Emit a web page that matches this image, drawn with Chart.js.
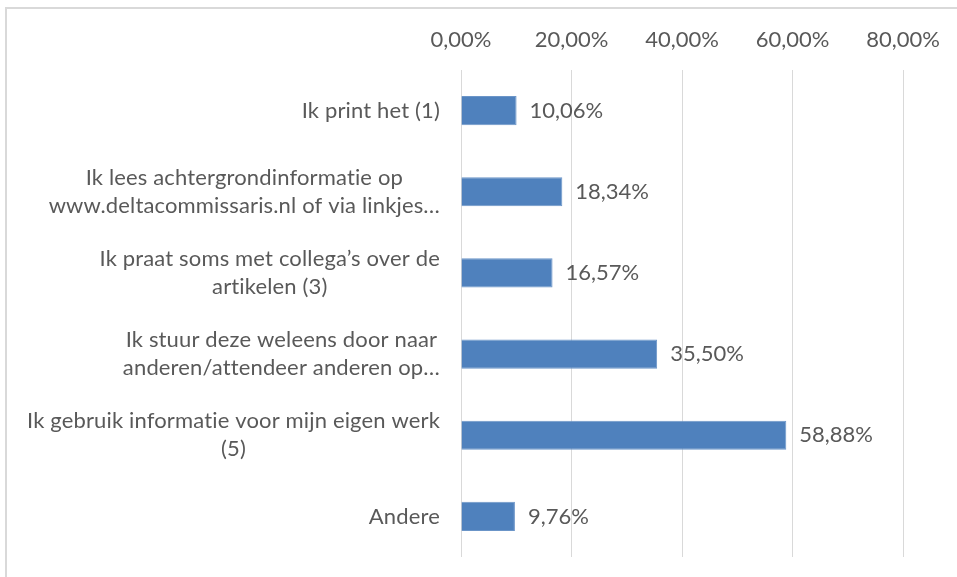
<!DOCTYPE html>
<html>
<head>
<meta charset="utf-8">
<script src="https://cdn.jsdelivr.net/npm/chart.js@4/dist/chart.umd.min.js"></script>
<style>
  body { margin: 0; background: #fff; }
  #wrap { position: relative; width: 957px; height: 577px; overflow: hidden; }
  #frame { position: absolute; left: 5px; top: 7px; width: 1000px; height: 600px; border: 2px solid #d9d9d9; }
  #chart { position: absolute; left: 0; top: 0; }
</style>
</head>
<body>
<div id="wrap">
  <div id="frame"></div>
  <canvas id="chart" width="957" height="577"></canvas>
</div>
<script>
const categories = [
  ['Ik print het (1)'],
  ['Ik lees achtergrondinformatie op', 'www.deltacommissaris.nl of via linkjes…'],
  ['Ik praat soms met collega’s over de', 'artikelen (3)'],
  ['Ik stuur deze weleens door naar', 'anderen/attendeer anderen op…'],
  ['Ik gebruik informatie voor mijn eigen werk', '(5)'],
  ['Andere']
];
const values = [10.06, 18.34, 16.57, 35.50, 58.88, 9.76];
const tickValues = [0, 20, 40, 60, 80];

const FONT = 'Lato, "Open Sans", sans-serif';
const TEXT_COLOR = '#595959';

function pct(v) {
  return v.toFixed(2).replace('.', ',') + '%';
}

// category labels: block right aligned to the axis, lines centered inside the block
const categoryLabels = {
  id: 'categoryLabels',
  afterDraw(chart) {
    const ctx = chart.ctx;
    const y = chart.scales.y;
    const right = chart.chartArea.left - 21;
    ctx.save();
    ctx.font = '22px ' + FONT;
    ctx.letterSpacing = '0.15px'; // also stops the ti/tt ligatures
    ctx.fillStyle = TEXT_COLOR;
    ctx.textAlign = 'center';
    ctx.textBaseline = 'middle';
    categories.forEach((lines, i) => {
      const widest = Math.max(...lines.map(l => ctx.measureText(l).width));
      const cx = right - widest / 2;
      const cy = y.getPixelForValue(i);
      const lh = 28;
      const top = cy - (lines.length - 1) * lh / 2;
      lines.forEach((l, j) => ctx.fillText(l, cx, top + j * lh));
    });
    ctx.restore();
  }
};

// value labels after each bar
const valueLabels = {
  id: 'valueLabels',
  afterDatasetsDraw(chart) {
    const ctx = chart.ctx;
    const meta = chart.getDatasetMeta(0);
    ctx.save();
    ctx.font = '22px ' + FONT;
    ctx.fillStyle = TEXT_COLOR;
    ctx.textAlign = 'left';
    ctx.textBaseline = 'middle';
    meta.data.forEach((bar, i) => {
      ctx.fillText(pct(values[i]), bar.x + 13, bar.y);
    });
    ctx.restore();
  }
};

new Chart(document.getElementById('chart'), {
  type: 'bar',
  data: {
    labels: categories.map(c => c.join(' ')),
    datasets: [{
      data: values,
      backgroundColor: '#4f81bd',
      borderColor: '#6b95c8',
      borderWidth: 1,
      barPercentage: 0.36,
      categoryPercentage: 1
    }]
  },
  options: {
    indexAxis: 'y',
    responsive: false,
    animation: false,
    layout: { padding: { top: 0, left: 0, right: 54, bottom: 20 } },
    plugins: { legend: { display: false }, tooltip: { enabled: false } },
    scales: {
      x: {
        position: 'top',
        min: 0,
        max: 80,
        afterBuildTicks(scale) {
          scale.ticks = tickValues.map(v => ({ value: v }));
        },
        afterFit(scale) { scale.height = 70; },
        grid: { color: '#d9d9d9', drawTicks: false, lineWidth: 1 },
        border: { display: false },
        ticks: {
          padding: 17,
          color: TEXT_COLOR,
          font: { family: FONT, size: 22 },
          callback: v => pct(v)
        }
      },
      y: {
        afterFit(scale) { scale.width = 461; },
        grid: { display: false },
        border: { display: false },
        ticks: { display: false }
      }
    }
  },
  plugins: [categoryLabels, valueLabels]
});
</script>
</body>
</html>
